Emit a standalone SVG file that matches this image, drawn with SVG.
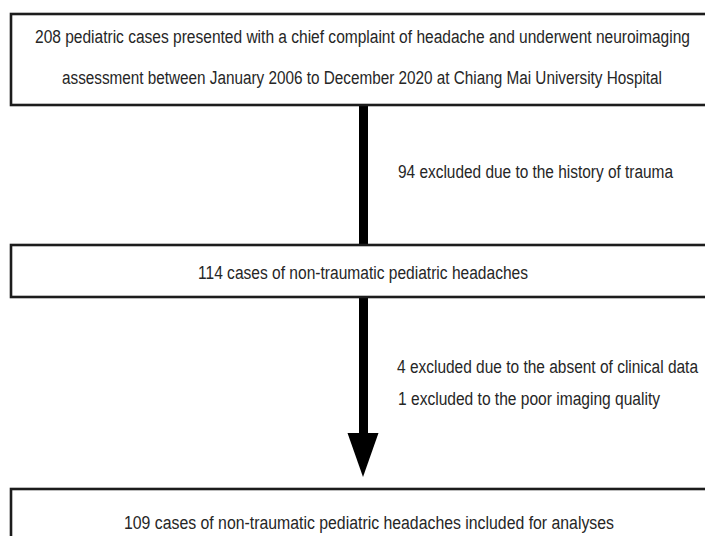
<svg xmlns="http://www.w3.org/2000/svg" width="705" height="536" viewBox="0 0 705 536">
<style>
.box{fill:#fff;stroke:#1c1c1c;stroke-width:2.6}
.t{font-family:"Liberation Sans",Arial,sans-serif;font-size:19px;fill:#262626}
</style>
<rect width="705" height="536" fill="#fff"/>
<g id="connectors">
<rect x="359" y="105" width="9" height="140" fill="#000"/>
<rect x="359" y="297" width="9" height="137" fill="#000"/>
<polygon points="347.5,433 378.5,433 363,477" fill="#000"/>
<text class="t" transform="translate(398,178) scale(0.81,1)" textLength="339.5" lengthAdjust="spacingAndGlyphs">94 excluded due to the history of trauma</text>
<text class="t" transform="translate(397,373) scale(0.81,1)" textLength="371.6" lengthAdjust="spacingAndGlyphs">4 excluded due to the absent of clinical data</text>
<text class="t" transform="translate(398,405) scale(0.81,1)" textLength="323.5" lengthAdjust="spacingAndGlyphs">1 excluded to the poor imaging quality</text>
</g>
<g id="node1">
<rect class="box" x="11" y="14" width="720" height="91"/>
<text class="t" transform="translate(35,43) scale(0.81,1)" textLength="808.6" lengthAdjust="spacingAndGlyphs">208 pediatric cases presented with a chief complaint of headache and underwent neuroimaging</text>
<text class="t" transform="translate(62,84) scale(0.81,1)" textLength="740.7" lengthAdjust="spacingAndGlyphs">assessment between January 2006 to December 2020 at Chiang Mai University Hospital</text>
</g>
<g id="node2">
<rect class="box" x="11" y="245" width="720" height="52"/>
<text class="t" transform="translate(198,278.5) scale(0.81,1)" textLength="407.4" lengthAdjust="spacingAndGlyphs">114 cases of non-traumatic pediatric headaches</text>
</g>
<g id="node3">
<rect class="box" x="11" y="489" width="720" height="80"/>
<text class="t" transform="translate(124,528.5) scale(0.81,1)" textLength="604.9" lengthAdjust="spacingAndGlyphs">109 cases of non-traumatic pediatric headaches included for analyses</text>
</g>
</svg>
